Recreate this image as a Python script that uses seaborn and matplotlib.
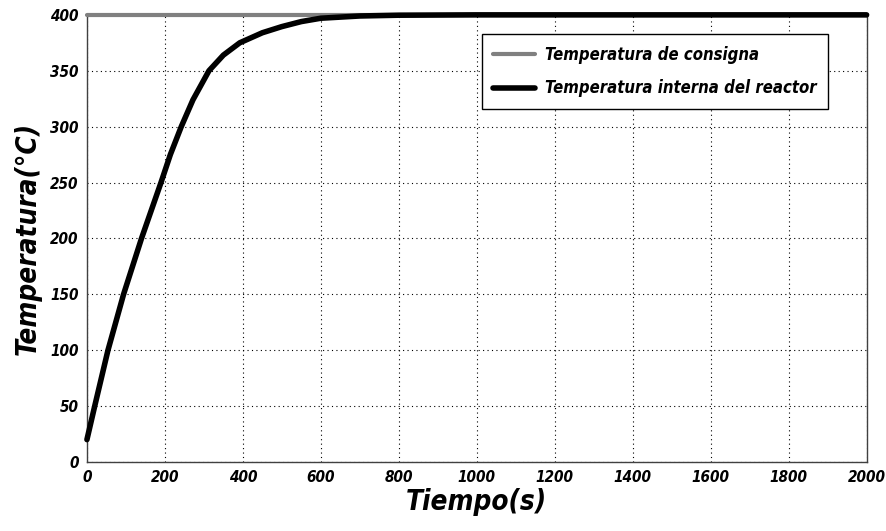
import numpy as np
import pandas as pd
import matplotlib
matplotlib.use("Agg")
import matplotlib.pyplot as plt
import seaborn as sns

# data
t_set = [0, 2000]
T_set = [400, 400]
t_reac = [0, 20, 54, 94, 140, 165, 190, 214, 242, 272, 313, 350, 392, 450, 500, 550, 600, 700, 800, 1000, 2000]
T_reac = [20, 50, 100, 150, 200, 225, 250, 275, 300, 324, 350, 364, 375, 384, 389.5, 394, 397, 399, 399.7, 400, 400]
x_ticks = list(range(0, 2001, 200))
y_ticks = list(range(0, 401, 50))

sns.set_style("white")
fam = ['DejaVu Sans']
plt.rcParams['font.family'] = fam
plt.rcParams['font.stretch'] = 'condensed'
plt.rcParams['text.color'] = 'black'

fig = plt.figure(figsize=(8.87, 5.31), dpi=100)
ax = fig.add_axes([0.098, 0.130, 0.879, 0.842])

df_set = pd.DataFrame({'t': t_set, 'T': T_set})
df_reac = pd.DataFrame({'t': t_reac, 'T': T_reac})
sns.lineplot(data=df_set, x='t', y='T', ax=ax, color='#808080', lw=3,
             label='Temperatura de consigna', clip_on=False, zorder=3)
sns.lineplot(data=df_reac, x='t', y='T', ax=ax, color='black', lw=4,
             label='Temperatura interna del reactor', clip_on=False, zorder=4,
             solid_joinstyle='round', solid_capstyle='round')

ax.set_xlim(0, 2000)
ax.set_ylim(0, 400)
ax.set_xticks(x_ticks)
ax.set_yticks(y_ticks)
tick_font = dict(family=fam, style='italic', weight='bold', size=11, stretch='condensed')
ax.set_xticklabels([str(v) for v in x_ticks], fontdict=tick_font)
ax.set_yticklabels([str(v) for v in y_ticks], fontdict=tick_font)
ax.tick_params(direction='in', length=6, width=1, color='black', labelcolor='black', pad=6)
ax.grid(True, linestyle=(0, (1, 3)), color='black', linewidth=0.8)
for s in ax.spines.values():
    s.set_color('#404040')
    s.set_linewidth(1)

lab_font = dict(family=fam, style='italic', weight='bold', size=20, stretch='condensed', color='black')
ax.set_xlabel('Tiempo(s)', fontdict=lab_font, labelpad=2)
ax.set_ylabel('Temperatura(°C)', fontdict=lab_font, labelpad=6)

leg = ax.legend(loc='upper right', bbox_to_anchor=(0.951, 0.9575), borderaxespad=0,
                frameon=True, fancybox=False, edgecolor='black', framealpha=1,
                prop=dict(family=fam, style='italic', weight='bold', size=12, stretch='condensed'),
                handlelength=2.5, handletextpad=0.6, borderpad=0.7, labelspacing=0.95)
leg.get_frame().set_linewidth(1)
for txt in leg.get_texts():
    txt.set_color('black')

fig.savefig('out.png', dpi=100)
